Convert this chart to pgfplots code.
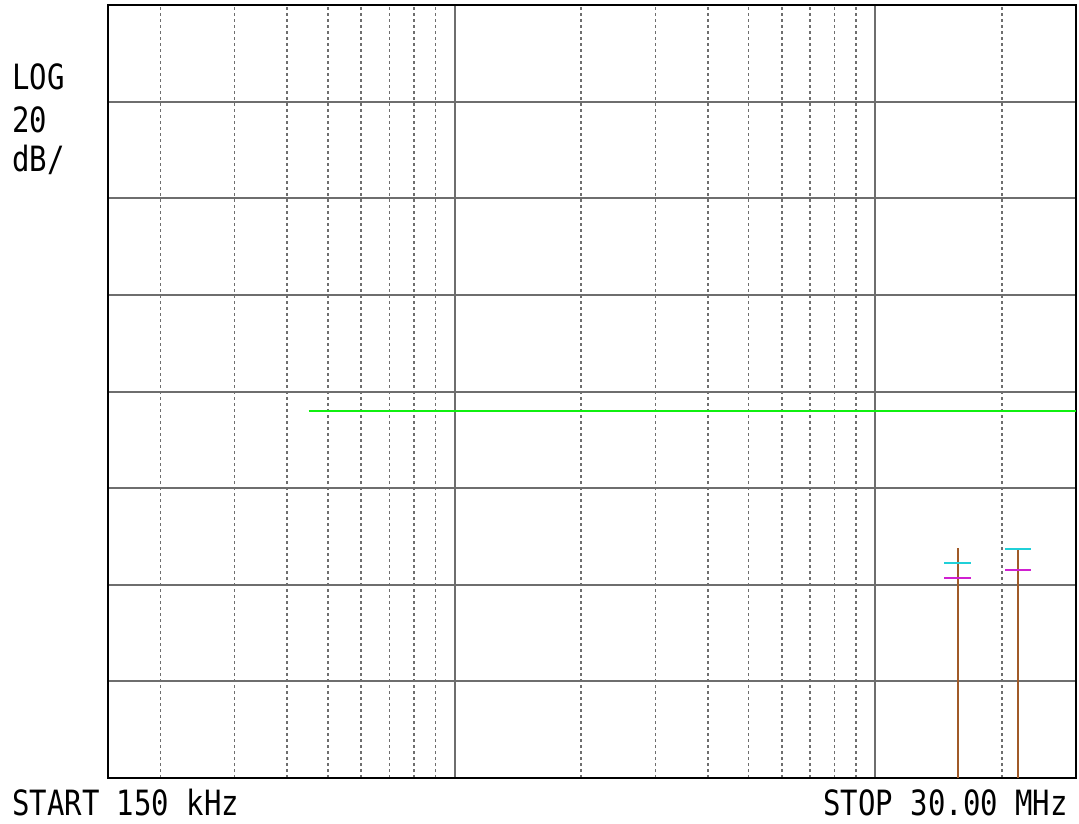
\documentclass[border=0pt]{standalone}
\usepackage{pgfplots}
\pgfplotsset{compat=1.18}
\usepackage{fontspec}
\newfontfamily\monof{DejaVu Sans Mono}
\definecolor{gridg}{HTML}{6E6E6E}
\definecolor{brn}{HTML}{A05A28}
\definecolor{cyn}{HTML}{20D0D8}
\definecolor{mag}{HTML}{D020D0}
\definecolor{grn}{HTML}{10F010}
\begin{document}
\begin{tikzpicture}[x=1pt,y=1pt]
\path[use as bounding box] (-108,-45) rectangle (971,778);
\begin{axis}[
  at={(0,0)}, anchor=south west,
  scale only axis, width=968pt, height=773pt,
  xmode=log, xmin=0.15, xmax=30, ymin=0, ymax=8,
  xtick={1,10}, minor xtick={0.2,0.3,0.4,0.5,0.6,0.7,0.8,0.9,2,3,4,5,6,7,8,9,20},
  ytick={0,1,2,3,4,5,6,7,8},
  xticklabels={}, yticklabels={},
  major tick length=0pt, minor tick length=0pt,
  grid=both,
  major grid style={gridg, line width=2pt},
  minor grid style={gridg, line width=1.6pt, dash pattern=on 3pt off 3pt},
  axis line style={black, line width=2.2pt},
  clip=false,
]
\addplot[grn, line width=2.4pt] coordinates {(0.45,3.80) (30,3.80)};
\addplot[brn, line width=2.4pt, ycomb] coordinates {(15.72,2.38) (21.84,2.36)};
\addplot[cyn, line width=2.4pt] coordinates {(14.57,2.226) (16.88,2.226)};
\addplot[cyn, line width=2.4pt] coordinates {(20.34,2.37) (23.45,2.37)};
\addplot[mag, line width=2.4pt] coordinates {(14.57,2.07) (16.88,2.07)};
\addplot[mag, line width=2.4pt] coordinates {(20.34,2.15) (23.45,2.15)};
\end{axis}
\begin{scope}[every node/.style={inner sep=0pt, font=\monof\fontsize{29}{29}\selectfont, yscale=1.2}]
\node[anchor=base west] at (-96,688) {LOG};
\node[anchor=base west] at (-96,645) {20};
\node[anchor=base west] at (-96,606) {dB/};
\node[anchor=base west] at (-96,-37) {START 150 kHz};
\node[anchor=base east] at (960,-37) {STOP 30.00 MHz};
\end{scope}
\end{tikzpicture}
\end{document}
